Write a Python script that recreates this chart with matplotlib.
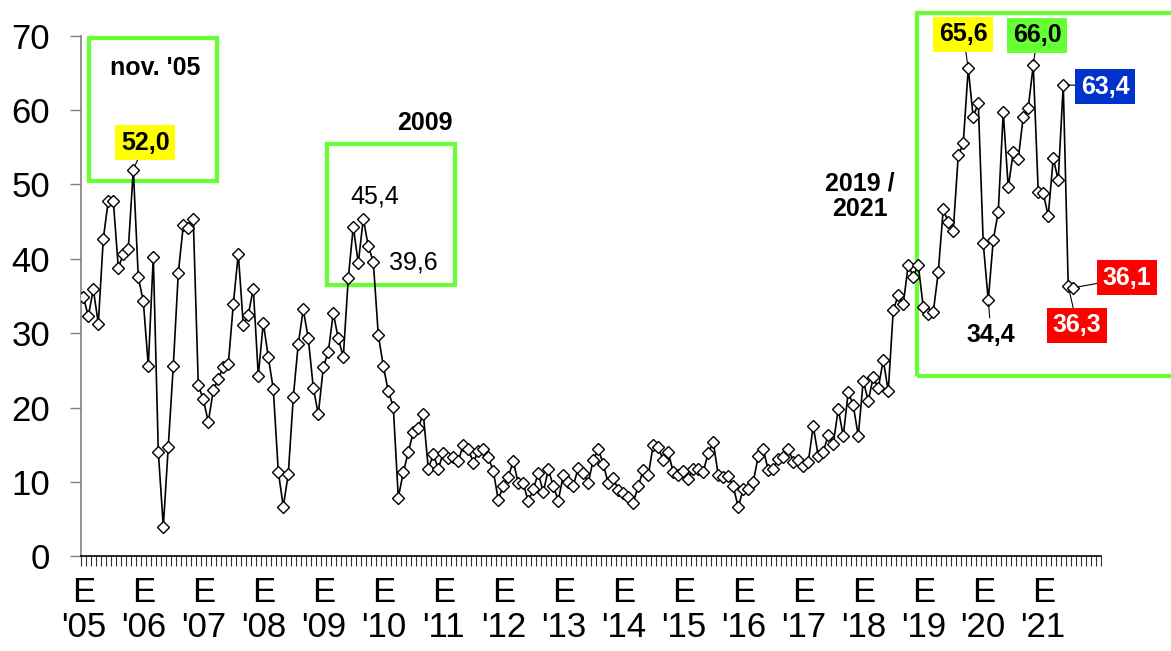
import matplotlib
matplotlib.use("Agg")
import matplotlib.pyplot as plt
from matplotlib.patches import Rectangle
from matplotlib.ticker import FixedLocator, NullFormatter

plt.rcParams["font.family"] = ["Liberation Sans", "DejaVu Sans"]

# monthly values, Jan 2005 .. Jul 2021
values = [
    34.9, 32.3, 35.9, 31.3, 42.7, 47.8, 47.8, 38.8, 40.6, 41.3, 52.0, 37.5,
    34.3, 25.6, 40.3, 14.1, 4.0, 14.7, 25.6, 38.1, 44.5, 44.2, 45.3, 23.0,
    21.1, 18.1, 22.3, 23.9, 25.4, 25.8, 33.9, 40.7, 31.1, 32.5, 36.0, 24.3,
    31.4, 26.8, 22.5, 11.4, 6.7, 11.1, 21.4, 28.6, 33.2, 29.3, 22.7, 19.1,
    25.4, 27.5, 32.7, 29.3, 26.8, 37.4, 44.3, 39.4, 45.4, 41.7, 39.6, 29.8,
    25.6, 22.2, 20.1, 7.9, 11.3, 14.0, 16.7, 17.3, 19.2, 11.8, 13.7, 11.8,
    13.9, 13.2, 13.4, 12.8, 15.0, 14.5, 12.6, 14.2, 14.4, 13.3, 11.5, 7.6,
    9.5, 10.7, 12.8, 9.8, 9.8, 7.4, 9.0, 11.2, 8.6, 11.7, 9.5, 7.5,
    10.9, 10.0, 9.5, 11.9, 11.2, 9.9, 13.0, 14.4, 12.4, 9.8, 10.6, 8.9,
    8.5, 8.0, 7.2, 9.5, 11.6, 10.9, 15.0, 14.7, 12.9, 14.0, 11.3, 10.9,
    11.5, 10.4, 11.8, 11.7, 11.4, 13.9, 15.4, 10.9, 10.7, 10.8, 9.4, 6.6,
    9.1, 9.1, 10.0, 13.5, 14.4, 11.6, 11.8, 13.1, 13.3, 14.5, 12.7, 12.9,
    12.1, 12.7, 17.5, 13.5, 14.1, 16.3, 15.1, 19.8, 16.2, 22.1, 20.3, 16.2,
    23.6, 20.9, 24.1, 22.6, 26.4, 22.2, 33.1, 35.1, 33.9, 39.2, 37.6, 39.2,
    33.5, 32.6, 32.8, 38.2, 46.7, 44.9, 43.8, 53.9, 55.5, 65.6, 59.0, 61.0,
    42.1, 34.4, 42.5, 46.3, 59.7, 49.6, 54.3, 53.4, 59.1, 60.3, 66.0, 49.0,
    48.8, 45.8, 53.5, 50.6, 63.4, 36.3, 36.1,
]
years = ["'05", "'06", "'07", "'08", "'09", "'10", "'11", "'12", "'13",
         "'14", "'15", "'16", "'17", "'18", "'19", "'20", "'21"]
n_months = 12 * len(years)

# highlighted points: (index, label, face colour, text colour, offset px)
callouts = [
    (10, "52,0", "#ffff00", "black", (12, 27)),
    (177, "65,6", "#ffff00", "black", (-5, 34)),
    (190, "66,0", "#66ff33", "black", (4, 30)),
    (196, "63,4", "#0033cc", "white", (42, -2)),
    (197, "36,3", "#ff0000", "white", (9, -39)),
    (198, "36,1", "#ff0000", "white", (54, 10)),
]

fig = plt.figure(figsize=(11.71, 6.51), dpi=100)
ax = fig.add_axes([0.0690, 0.1453, 0.8710, 0.8000])

ax.plot(range(len(values)), values, color="black", lw=1.2,
        marker="D", markersize=6, markerfacecolor="white",
        markeredgecolor="black", markeredgewidth=1.0, zorder=3)

ax.set_xlim(-0.5, n_months - 0.5)
ax.set_ylim(0, 70)
ax.set_yticks(range(0, 71, 10))
ax.tick_params(axis="y", labelsize=25, length=8, width=1, color="#808080", pad=14)

ax.set_xticks([12 * k for k in range(len(years))])
ax.set_xticklabels(["E\n" + y for y in years], fontsize=25, linespacing=1.1)
ax.xaxis.set_minor_locator(FixedLocator([k - 0.5 for k in range(n_months + 1)]))
ax.xaxis.set_minor_formatter(NullFormatter())
ax.tick_params(axis="x", which="major", length=0, pad=14)
ax.tick_params(axis="x", which="minor", length=7, width=0.8, color="#333333")

for side in ("top", "right"):
    ax.spines[side].set_visible(False)
ax.spines["left"].set_color("#808080")
ax.spines["left"].set_linewidth(1.2)
ax.spines["bottom"].set_color("black")
ax.spines["bottom"].set_linewidth(1.2)

# plain labels around the 2009 peak
ax.annotate("45,4", (56, values[56]), xytext=(11, 22), textcoords="offset pixels",
            ha="center", va="center", fontsize=18)
ax.annotate("39,6", (58, values[58]), xytext=(40, -1), textcoords="offset pixels",
            ha="center", va="center", fontsize=18)
ax.annotate("34,4", (181, values[181]), xytext=(3, -35), textcoords="offset pixels",
            ha="center", va="center", fontsize=18, fontweight="bold",
            arrowprops=dict(arrowstyle="-", color="black", lw=0.8,
                            shrinkA=2, shrinkB=3))

for idx, txt, fc, tc, off in callouts:
    ax.annotate(txt, (idx, values[idx]), xytext=off, textcoords="offset pixels",
                ha="center", va="center", fontsize=18, fontweight="bold", color=tc,
                bbox=dict(boxstyle="square,pad=0.22", fc=fc, ec="none"),
                arrowprops=dict(arrowstyle="-", color="black", lw=0.8,
                                shrinkA=0, shrinkB=3),
                zorder=5)

# green highlight frames
frames = [(1.2, 50.5, 25.5, 19.2), (48.8, 36.5, 25.5, 18.9), (166.7, 24.2, 60, 48.9)]
for x0, y0, w, h in frames:
    ax.add_patch(Rectangle((x0, y0), w, h, fill=False, ec="#66ff33", lw=3,
                           clip_on=False, zorder=2))

ax.text(14.3, 65.7, "nov. '05", ha="center", va="center", fontsize=18, fontweight="bold")
ax.text(68.4, 58.3, "2009", ha="center", va="center", fontsize=18, fontweight="bold")
ax.text(155.3, 48.4, "2019 /\n2021", ha="center", va="center", fontsize=18,
        fontweight="bold", linespacing=1.1)

fig.savefig("out.png", dpi=100)
